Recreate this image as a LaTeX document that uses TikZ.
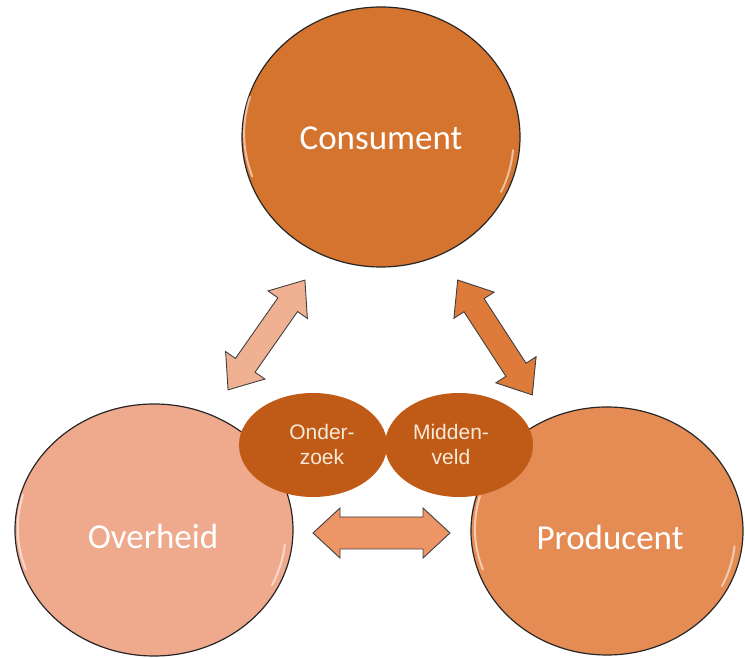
\documentclass[tikz,border=0pt]{standalone}
\usepackage{fontspec}
\setmainfont{Carlito}
\newfontfamily\smallfont{Liberation Sans}
\usetikzlibrary{calc,shapes.geometric}
\definecolor{consc}{HTML}{D5742F}
\definecolor{prodc}{HTML}{E58C55}
\definecolor{overc}{HTML}{EFA98C}
\definecolor{ellc}{HTML}{C05A17}
\definecolor{arrL}{HTML}{F0B193}
\definecolor{arrR}{HTML}{DE7B3B}
\definecolor{arrH}{HTML}{EE9566}
\definecolor{txtc}{HTML}{F8EAD8}
\tikzset{
  bigcircle/.style={ellipse, draw=black!85, line width=1.2pt, inner sep=0pt, text=white,
     font=\fontsize{35}{40}\selectfont},
  smallell/.style={ellipse, fill=ellc, inner sep=0pt, text=txtc, align=center,
     font=\smallfont\fontsize{21}{25}\selectfont},
  blockarr/.style={draw=black!75, line width=0.9pt, line join=miter},
  gloss/.style={white, line width=2pt, opacity=0.55, line cap=round},
  biglabel/.style={text=white, font=\fontsize{35}{40}\selectfont}
}
% #1 center, #2 angle, #3 half length, #4 shaft half, #5 head half, #6 head length, #7 fill
\newcommand\dblarrowshape[7]{%
  \begin{scope}[shift={#1}, rotate=#2]
    \filldraw[blockarr, fill=#7]
      (-#3,0) -- (-#3+#6,#5) -- (-#3+#6,#4) -- (#3-#6,#4) -- (#3-#6,#5) -- (#3,0)
      -- (#3-#6,-#5) -- (#3-#6,-#4) -- (-#3+#6,-#4) -- (-#3+#6,-#5) -- cycle;
  \end{scope}}
\begin{document}
\begin{tikzpicture}[x=1pt,y=1pt]
\useasboundingbox (0,0) rectangle (745,658);
\fill[white] (0,0) rectangle (745,658);

% main circles
\node[bigcircle, fill=consc, minimum width=278pt, minimum height=260pt] (cons) at (381,521) {};
\node[bigcircle, fill=overc, minimum width=278pt, minimum height=252pt] (over) at (154,128) {};
\node[bigcircle, fill=prodc, minimum width=272pt, minimum height=248pt] (prod) at (607,127) {};

% gloss highlights
\draw[gloss] ($(cons.center)+(-131,40)$) arc[start angle=163, end angle=200, x radius=134, y radius=125];
\draw[gloss] ($(cons.center)+(120,-55)$) arc[start angle=-25, end angle=-5, x radius=134, y radius=125];
\draw[gloss] ($(over.center)+(-131,35)$) arc[start angle=164, end angle=200, x radius=134, y radius=121];
\draw[gloss] ($(over.center)+(118,-55)$) arc[start angle=-26, end angle=-6, x radius=134, y radius=121];
\draw[gloss] ($(prod.center)+(-127,35)$) arc[start angle=164, end angle=200, x radius=131, y radius=119];
\draw[gloss] ($(prod.center)+(115,-55)$) arc[start angle=-26, end angle=-6, x radius=131, y radius=119];

\node[biglabel] (consl) at (381,520) {Consument};
\node[biglabel] (overl) at (153,122) {Overheid};
\node[biglabel] (prodl) at (610,121) {Producent};

% block arrows
\dblarrowshape{(266.5,323)}{55}{67}{12}{24}{30}{arrL}
\dblarrowshape{(495,320.5)}{-57}{68.5}{12}{24}{30}{arrR}
\dblarrowshape{(381.5,125)}{0}{68.5}{16}{25}{27}{arrH}

% overlapping ellipses
\node[smallell, minimum width=148pt, minimum height=104pt] (ond) at (313,213) {};
\node[smallell, minimum width=148pt, minimum height=104pt] (mid) at (459,213) {};
\node[smallell, fill=none] (ondl) at (322,213) {Onder-\\zoek};
\node[smallell, fill=none] (midl) at (451,213) {Midden-\\veld};
\end{tikzpicture}
\end{document}
